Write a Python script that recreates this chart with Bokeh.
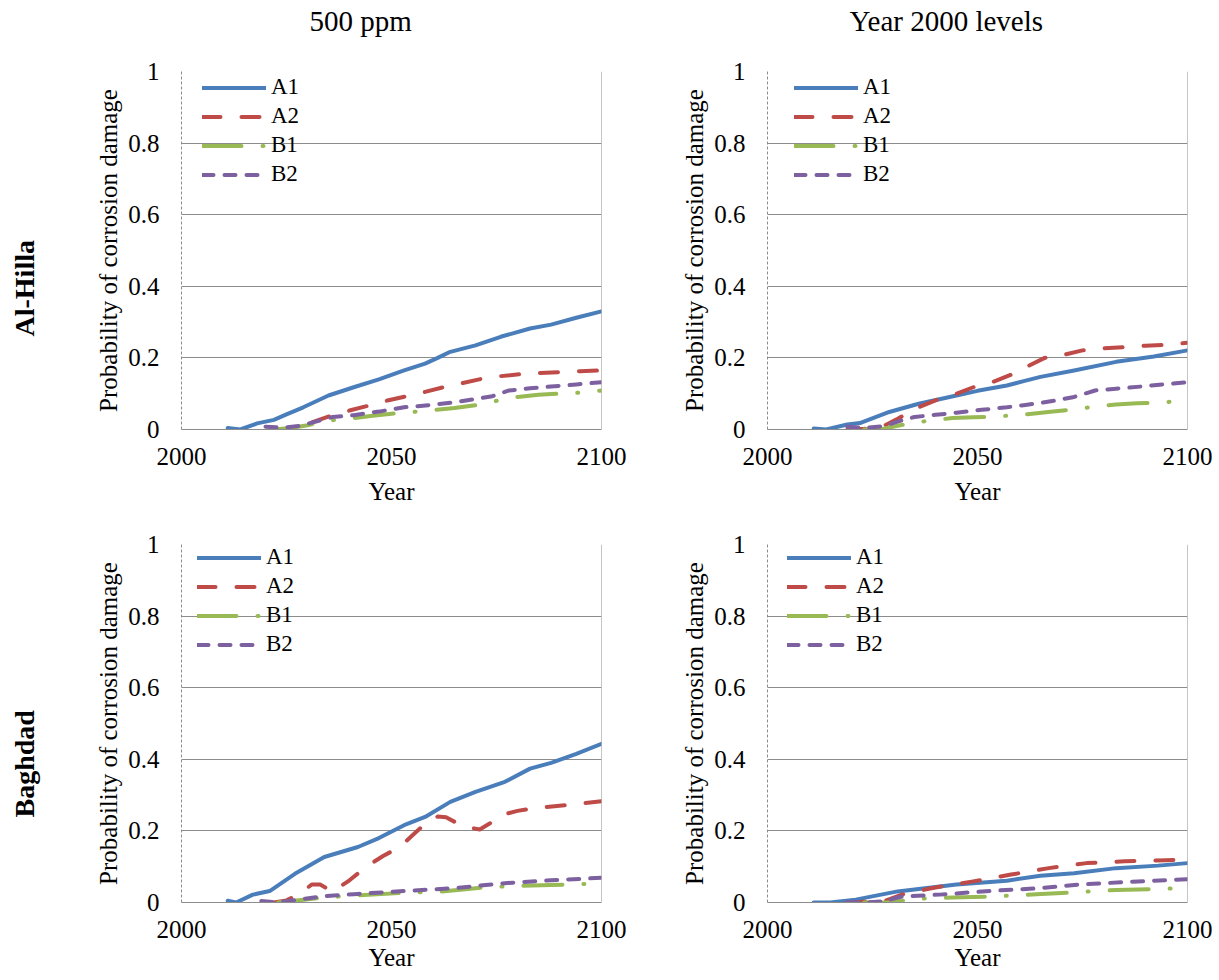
from bokeh.plotting import figure
from bokeh.models import Legend, LegendItem, Span, FixedTicker, Title
from bokeh.layouts import column, row
from bokeh.embed import file_html
from bokeh.resources import INLINE

# ---------------- data ----------------
col_titles = ["500 ppm", "Year 2000 levels"]
row_titles = ["Al-Hilla", "Baghdad"]
series_names = ["A1", "A2", "B1", "B2"]
x_ticks = [2000, 2050, 2100]
y_ticks = [0, 0.2, 0.4, 0.6, 0.8, 1]
y_tick_labels = ["0", "0.2", "0.4", "0.6", "0.8", "1"]

# Al-Hilla, 500 ppm
hilla500_A1_x = [2011, 2014, 2018, 2022, 2025, 2029, 2035, 2041, 2047, 2053, 2058, 2061, 2064, 2070, 2076, 2083, 2088, 2094, 2100]
hilla500_A1_y = [0.004, 0.0, 0.017, 0.027, 0.042, 0.062, 0.095, 0.118, 0.14, 0.165, 0.184, 0.2, 0.217, 0.235, 0.259, 0.282, 0.293, 0.312, 0.33]
hilla500_A2_x = [2022, 2026, 2031, 2036, 2040, 2045, 2049, 2054, 2058, 2063, 2067, 2072, 2076, 2081, 2085, 2090, 2095, 2100]
hilla500_A2_y = [0.0, 0.002, 0.02, 0.04, 0.053, 0.068, 0.081, 0.094, 0.105, 0.12, 0.13, 0.143, 0.149, 0.155, 0.158, 0.16, 0.163, 0.165]
hilla500_B1_x = [2022, 2026, 2030, 2034, 2040, 2045, 2050, 2055, 2060, 2065, 2070, 2075, 2080, 2085, 2090, 2095, 2100]
hilla500_B1_y = [0.0, 0.004, 0.012, 0.024, 0.03, 0.038, 0.044, 0.049, 0.054, 0.06, 0.068, 0.08, 0.091, 0.097, 0.1, 0.103, 0.109]
hilla500_B2_x = [2020, 2024, 2028, 2032, 2036, 2041, 2047, 2053, 2059, 2065, 2070, 2074, 2078, 2083, 2088, 2094, 2100]
hilla500_B2_y = [0.008, 0.005, 0.01, 0.022, 0.035, 0.04, 0.05, 0.062, 0.068, 0.076, 0.085, 0.093, 0.109, 0.115, 0.12, 0.126, 0.132]

# Al-Hilla, Year 2000 levels
hilla2000_A1_x = [2011, 2014, 2019, 2022, 2029, 2036, 2045, 2050, 2057, 2061, 2065, 2073, 2083, 2092, 2100]
hilla2000_A1_y = [0.003, 0.0, 0.014, 0.018, 0.049, 0.072, 0.095, 0.108, 0.123, 0.135, 0.147, 0.165, 0.189, 0.204, 0.221]
hilla2000_A2_x = [2019, 2023, 2027, 2031, 2036, 2041, 2044, 2049, 2053, 2058, 2062, 2066, 2070, 2075, 2080, 2085, 2090, 2095, 2100]
hilla2000_A2_y = [0.0, 0.002, 0.006, 0.03, 0.062, 0.086, 0.095, 0.118, 0.13, 0.153, 0.177, 0.2, 0.207, 0.221, 0.227, 0.23, 0.234, 0.237, 0.242]
hilla2000_B1_x = [2023, 2028, 2034, 2039, 2044, 2049, 2054, 2059, 2063, 2068, 2074, 2079, 2083, 2088, 2093, 2100]
hilla2000_B1_y = [0.0, 0.003, 0.018, 0.025, 0.032, 0.034, 0.036, 0.04, 0.044, 0.05, 0.058, 0.065, 0.07, 0.073, 0.075, 0.081]
hilla2000_B2_x = [2019, 2023, 2028, 2031, 2035, 2040, 2045, 2051, 2057, 2061, 2065, 2069, 2073, 2078, 2083, 2089, 2094, 2100]
hilla2000_B2_y = [0.008, 0.004, 0.01, 0.022, 0.035, 0.041, 0.047, 0.055, 0.062, 0.068, 0.074, 0.082, 0.091, 0.109, 0.114, 0.12, 0.126, 0.132]

# Baghdad, 500 ppm
baghdad500_A1_x = [2011, 2013, 2017, 2021, 2027, 2034, 2042, 2047, 2053, 2058, 2064, 2070, 2077, 2083, 2088, 2094, 2100]
baghdad500_A1_y = [0.005, 0.0, 0.022, 0.032, 0.08, 0.127, 0.155, 0.18, 0.216, 0.239, 0.281, 0.309, 0.337, 0.374, 0.39, 0.415, 0.443]
baghdad500_A2_x = [2022, 2025, 2028, 2031, 2033, 2036, 2040, 2044, 2048, 2052, 2055, 2059, 2061, 2063, 2067, 2071, 2074, 2077, 2080, 2085, 2090, 2095, 2100]
baghdad500_A2_y = [0.0, 0.006, 0.024, 0.05, 0.05, 0.03, 0.062, 0.1, 0.13, 0.155, 0.188, 0.23, 0.24, 0.238, 0.213, 0.204, 0.225, 0.247, 0.256, 0.265, 0.27, 0.276, 0.283]
baghdad500_B1_x = [2023, 2028, 2034, 2042, 2053, 2061, 2067, 2072, 2079, 2088, 2100]
baghdad500_B1_y = [0.0, 0.006, 0.014, 0.02, 0.027, 0.03, 0.036, 0.042, 0.046, 0.049, 0.053]
baghdad500_B2_x = [2019, 2023, 2029, 2034, 2042, 2053, 2065, 2077, 2088, 2100]
baghdad500_B2_y = [0.004, 0.0, 0.01, 0.018, 0.024, 0.032, 0.04, 0.054, 0.062, 0.069]

# Baghdad, Year 2000 levels
baghdad2000_A1_x = [2011, 2015, 2021, 2031, 2045, 2057, 2065, 2073, 2083, 2093, 2100]
baghdad2000_A1_y = [0.0, 0.0, 0.008, 0.031, 0.05, 0.061, 0.075, 0.082, 0.096, 0.103, 0.11]
baghdad2000_A2_x = [2019, 2028, 2032, 2039, 2049, 2058, 2067, 2076, 2085, 2095, 2100]
baghdad2000_A2_y = [0.0, 0.005, 0.022, 0.04, 0.059, 0.078, 0.096, 0.11, 0.115, 0.118, 0.12]
baghdad2000_B1_x = [2023, 2029, 2035, 2044, 2054, 2064, 2074, 2083, 2093, 2100]
baghdad2000_B1_y = [0.0, 0.0, 0.01, 0.014, 0.017, 0.023, 0.029, 0.035, 0.038, 0.04]
baghdad2000_B2_x = [2019, 2023, 2028, 2032, 2041, 2054, 2065, 2074, 2085, 2100]
baghdad2000_B2_y = [0.002, 0.0, 0.004, 0.017, 0.022, 0.033, 0.04, 0.05, 0.057, 0.065]

panels = [
    {"A1": (hilla500_A1_x, hilla500_A1_y), "A2": (hilla500_A2_x, hilla500_A2_y),
     "B1": (hilla500_B1_x, hilla500_B1_y), "B2": (hilla500_B2_x, hilla500_B2_y)},
    {"A1": (hilla2000_A1_x, hilla2000_A1_y), "A2": (hilla2000_A2_x, hilla2000_A2_y),
     "B1": (hilla2000_B1_x, hilla2000_B1_y), "B2": (hilla2000_B2_x, hilla2000_B2_y)},
    {"A1": (baghdad500_A1_x, baghdad500_A1_y), "A2": (baghdad500_A2_x, baghdad500_A2_y),
     "B1": (baghdad500_B1_x, baghdad500_B1_y), "B2": (baghdad500_B2_x, baghdad500_B2_y)},
    {"A1": (baghdad2000_A1_x, baghdad2000_A1_y), "A2": (baghdad2000_A2_x, baghdad2000_A2_y),
     "B1": (baghdad2000_B1_x, baghdad2000_B1_y), "B2": (baghdad2000_B2_x, baghdad2000_B2_y)},
]

# ---------------- style ----------------
SERIF = "Liberation Serif"
GRID = "#8c8c8c"
COLORS = {"A1": "#4A7EBB", "A2": "#BE4B48", "B1": "#98B954", "B2": "#7D60A0"}
DASH = {"A1": "solid", "A2": "18 21", "B1": "39 21 1 21", "B2": "11 11"}
FW, FH = 420, 358


def build(idx, left, right, top, bottom, leg_x, leg_top, title_offset, row_offset, year_standoff):
    p = figure(width=left + FW + right, height=top + FH + bottom,
               x_range=(2000, 2100), y_range=(0, 1),
               output_backend="svg", toolbar_location=None, title=None,
               min_border_left=left, min_border_right=right,
               min_border_top=top, min_border_bottom=bottom)
    p.outline_line_color = None
    p.background_fill_color = "white"
    p.border_fill_color = "white"

    p.xgrid.grid_line_color = None
    p.ygrid.ticker = FixedTicker(ticks=y_ticks)
    p.ygrid.grid_line_color = GRID
    p.ygrid.grid_line_width = 1

    ya = p.yaxis[0]
    ya.ticker = FixedTicker(ticks=y_ticks)
    ya.major_label_overrides = {t: s for t, s in zip(y_ticks, y_tick_labels)}
    ya.major_tick_line_color = None
    ya.minor_tick_line_color = None
    ya.axis_line_color = GRID
    ya.axis_line_dash = "3 2"
    ya.major_label_text_font = SERIF
    ya.major_label_text_font_size = "25px"
    ya.major_label_text_color = "black"
    ya.major_label_standoff = 16
    ya.axis_label = "Probability of corrosion damage"
    ya.axis_label_text_font = SERIF
    ya.axis_label_text_font_size = "25px"
    ya.axis_label_text_font_style = "normal"
    ya.axis_label_text_color = "black"
    ya.axis_label_standoff = 3

    xa = p.xaxis[0]
    xa.ticker = FixedTicker(ticks=x_ticks)
    xa.major_tick_line_color = None
    xa.minor_tick_line_color = None
    xa.axis_line_color = GRID
    xa.major_label_text_font = SERIF
    xa.major_label_text_font_size = "25px"
    xa.major_label_text_color = "black"
    xa.major_label_standoff = 12
    xa.axis_label = "Year"
    xa.axis_label_text_font = SERIF
    xa.axis_label_text_font_size = "25px"
    xa.axis_label_text_font_style = "normal"
    xa.axis_label_text_color = "black"
    xa.axis_label_standoff = year_standoff

    p.add_layout(Span(location=2100, dimension="height", line_color=GRID, line_width=1))

    items = []
    data = panels[idx]
    for s in series_names:
        xs, ys = data[s]
        r = p.line(xs, ys, line_color=COLORS[s], line_width=4, line_dash=DASH[s],
                   line_cap="round", line_join="round")
        items.append(LegendItem(label=s, renderers=[r]))

    row_h = 29
    leg_h = row_h * len(items)
    legend = Legend(items=items, location=(leg_x, FH - (leg_top - row_h / 2) - leg_h),
                    padding=0, margin=0, spacing=0,
                    glyph_width=64, glyph_height=row_h, label_height=row_h,
                    label_standoff=5, label_text_font=SERIF, label_text_font_size="23px",
                    label_text_color="black",
                    background_fill_alpha=0, border_line_color=None)
    p.add_layout(legend)

    r_i, c_i = divmod(idx, 2)
    if r_i == 0:
        # spacer between frame and the column title
        p.add_layout(Title(text=" ", text_font_size="10px", standoff=22), "above")
        p.add_layout(Title(text=col_titles[c_i], align="left", offset=title_offset,
                           text_font=SERIF, text_font_size="29px", text_font_style="normal",
                           text_color="black", standoff=0), "above")
    if c_i == 0:
        p.add_layout(Title(text=" ", text_font_size="10px", standoff=40), "left")
        p.add_layout(Title(text=row_titles[r_i], align="left", offset=row_offset,
                           text_font=SERIF, text_font_size="28px", text_font_style="bold",
                           text_color="black", standoff=0), "left")
    return p


p1 = build(0, 181, 30, 71, 88, 21, 16, 128, 93, 10)
p2 = build(1, 136, 30, 71, 88, 27, 16, 82, 0, 10)
p3 = build(2, 181, 30, 27, 76, 16, 13, 0, 85, 3)
p4 = build(3, 136, 30, 27, 76, 20, 13, 0, 0, 3)

layout = column(row(p1, p2), row(p3, p4))
open("out.html", "w").write(file_html(layout, INLINE))
